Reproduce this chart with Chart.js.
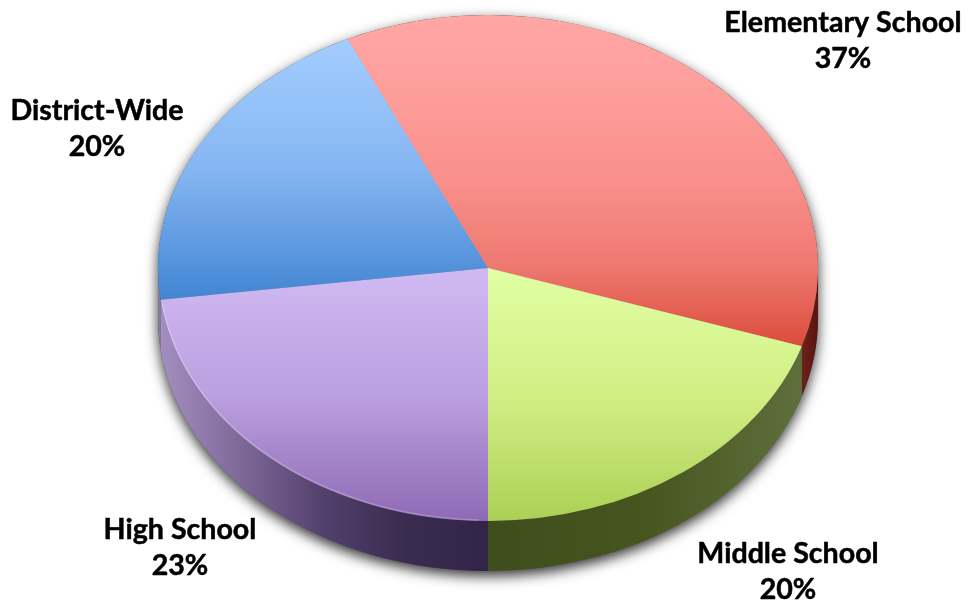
<!DOCTYPE html>
<html>
<head>
<meta charset="utf-8">
<style>html,body{margin:0;padding:0;background:#fff}#wrap{width:968px;height:603px}</style>
<script src="https://cdn.jsdelivr.net/npm/chart.js@4"></script>
</head>
<body>
<div id="wrap"><canvas id="pie" width="968" height="603"></canvas></div>
<script>
const categories = ['Elementary School', 'Middle School', 'High School', 'District-Wide'];
const shares = [37, 20, 23, 20];
const topColors = [
  ['#ffa7a5', '#fd9d9a', '#f98f8b', '#ee7a71', '#db4c3c'],
  ['#e0ffa2', '#d2ef85', '#abd055'],
  ['#d1baf3', '#bb9fe0', '#8e6ab4'],
  ['#a4cdff', '#85b6f2', '#4285d2']
];
const wallColors = [
  ['#6e211c', '#58140f'],
  ['#3f4d1c', '#47561f', '#5f6f3c'],
  ['#a38ec0', '#7d6898', '#52406c', '#3a2b50', '#33254a'],
  ['#7f7c90', '#8a7ca2']
];
const labelAnchors = [[843, 32], [788, 563], [180, 539], [97, 120]];

const START_DEG = -25.2;
const X_STRETCH = 330 / 253;
const WALL_DEPTH = 50;
const LINE_GAP = 36;

// Vertical gradient spanning the slice's own extent on the disc.
function sliceGradient(c) {
  const chart = c.chart, area = chart.chartArea;
  if (!area) return topColors[c.dataIndex][0];
  const total = shares.reduce((a, b) => a + b, 0);
  const before = shares.slice(0, c.dataIndex).reduce((a, b) => a + b, 0);
  const a0 = (START_DEG - 90 + before / total * 360) * Math.PI / 180;
  const a1 = a0 + shares[c.dataIndex] / total * 2 * Math.PI;
  const r = area.height / 2, cy = (area.top + area.bottom) / 2;
  const ys = [0, Math.sin(a0), Math.sin(a1)];
  for (const k of [-2.5, -0.5, 0.5, 1.5]) {
    const t = k * Math.PI;
    if (t > a0 && t < a1) ys.push(Math.sin(t));
  }
  const g = chart.ctx.createLinearGradient(0, cy + r * Math.min(...ys), 0, cy + r * Math.max(...ys));
  const stops = topColors[c.dataIndex];
  stops.forEach((s, i) => g.addColorStop(i / (stops.length - 1), s));
  return g;
}

// Gives the flat pie its tilted look: drop shadow and side wall below,
// horizontal stretch while the slices paint, rim highlight and captions above.
const tiltedPie = {
  id: 'tiltedPie',
  beforeDatasetsDraw(chart) {
    const { ctx } = chart;
    const arcs = chart.getDatasetMeta(0).data;
    const p0 = arcs[0].getProps(['x', 'y', 'outerRadius'], true);
    const cx = p0.x, cy = p0.y, ry = p0.outerRadius, rx = ry * X_STRETCH;

    ctx.save();
    ctx.shadowColor = 'rgba(0,0,0,0.8)';
    ctx.shadowBlur = 13;
    ctx.shadowOffsetY = 5;
    ctx.fillStyle = '#555';
    ctx.beginPath();
    ctx.ellipse(cx, cy, rx, ry, 0, Math.PI, 2 * Math.PI);
    ctx.ellipse(cx, cy + WALL_DEPTH, rx, ry, 0, 0, Math.PI);
    ctx.closePath();
    ctx.fill();
    ctx.restore();

    arcs.forEach((arc, i) => {
      const p = arc.getProps(['startAngle', 'endAngle'], true);
      const a0 = Math.max(p.startAngle, 0), a1 = Math.min(p.endAngle, Math.PI);
      if (a1 <= a0) return;
      const xA = cx + rx * Math.cos(a0), xB = cx + rx * Math.cos(a1);
      const g = ctx.createLinearGradient(Math.min(xA, xB), 0, Math.max(xA, xB), 0);
      const stops = wallColors[i];
      stops.forEach((s, k) => g.addColorStop(k / (stops.length - 1), s));
      ctx.fillStyle = g;
      ctx.beginPath();
      ctx.ellipse(cx, cy, rx, ry, 0, a0, a1);
      ctx.ellipse(cx, cy + WALL_DEPTH, rx, ry, 0, a1, a0, true);
      ctx.closePath();
      ctx.fill();
    });

    // Backing disc so no pale seams show between neighbouring slices.
    ctx.fillStyle = '#a79ab8';
    ctx.beginPath();
    ctx.ellipse(cx, cy, rx - 1, ry - 1, 0, 0, 2 * Math.PI);
    ctx.fill();

    ctx.save();
    ctx.translate(cx, cy);
    ctx.scale(X_STRETCH, 1);
    ctx.translate(-cx, -cy);
  },
  afterDatasetsDraw(chart) {
    const { ctx } = chart;
    ctx.restore();
    const arc = chart.getDatasetMeta(0).data[0];
    const p = arc.getProps(['x', 'y', 'outerRadius'], true);
    ctx.save();
    ctx.strokeStyle = 'rgba(255,255,255,0.22)';
    ctx.lineWidth = 1.5;
    ctx.beginPath();
    ctx.ellipse(p.x, p.y, p.outerRadius * X_STRETCH - 1, p.outerRadius - 1, 0, 1.6, 3.0);
    ctx.stroke();
    ctx.restore();
  },
  afterDraw(chart) {
    const { ctx } = chart;
    ctx.save();
    ctx.fillStyle = '#000';
    ctx.strokeStyle = '#000';
    ctx.lineWidth = 0.5;
    ctx.font = 'bold 28.6px Lato, sans-serif';
    ctx.textAlign = 'center';
    ctx.textBaseline = 'alphabetic';
    categories.forEach((name, i) => {
      const [x, y] = labelAnchors[i];
      const pct = shares[i] + '%';
      ctx.fillText(name, x, y);
      ctx.strokeText(name, x, y);
      ctx.fillText(pct, x, y + LINE_GAP);
      ctx.strokeText(pct, x, y + LINE_GAP);
    });
    ctx.restore();
  }
};

new Chart(document.getElementById('pie'), {
  type: 'pie',
  plugins: [tiltedPie],
  data: {
    labels: categories,
    datasets: [{ data: shares, backgroundColor: sliceGradient, borderWidth: 0 }]
  },
  options: {
    responsive: false,
    animation: false,
    rotation: START_DEG,
    layout: { padding: { top: 15, bottom: 82, left: 158, right: 150 } },
    plugins: { legend: { display: false }, tooltip: { enabled: false } }
  }
});
</script>
</body>
</html>
